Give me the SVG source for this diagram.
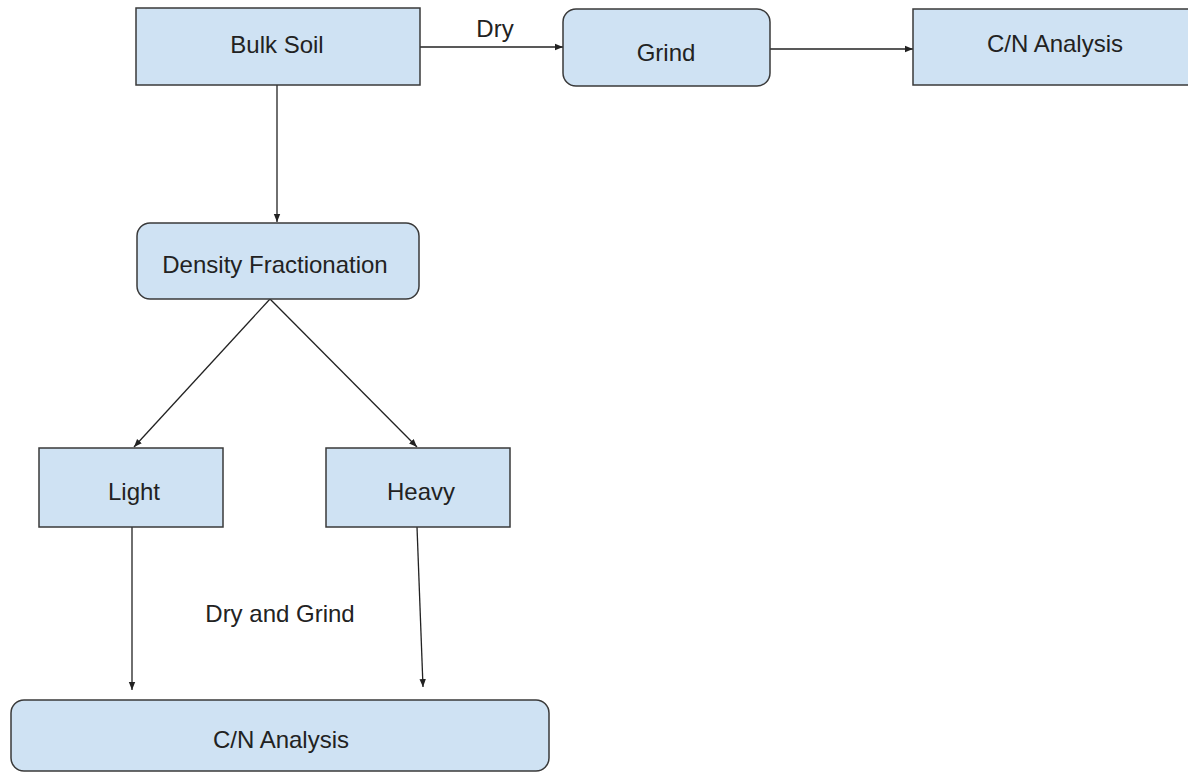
<svg xmlns="http://www.w3.org/2000/svg" width="1188" height="773" viewBox="0 0 1188 773">
<defs>
<style>
.box{fill:#cfe2f3;stroke:#3a3a3a;stroke-width:1.5}
.lbl{font-family:"Liberation Sans",Arial,sans-serif;font-size:24px;fill:#222;text-anchor:middle}
.edge{stroke:#222;stroke-width:1.3;fill:none;marker-end:url(#ah)}
</style>
<marker id="ah" viewBox="0 0 10 10" refX="10" refY="5" markerWidth="8" markerHeight="8" markerUnits="userSpaceOnUse" orient="auto">
<path d="M0,1 L10,5 L0,9 Z" fill="#222"/>
</marker>
</defs>
<rect width="1188" height="773" fill="#fff"/>
<g id="connectors">
<line class="edge" x1="420" y1="47" x2="563" y2="47"/>
<line class="edge" x1="770" y1="49" x2="913" y2="49"/>
<line class="edge" x1="277" y1="85" x2="277" y2="222"/>
<line class="edge" x1="270" y1="299" x2="134" y2="447"/>
<line class="edge" x1="270" y1="299" x2="417" y2="447"/>
<line class="edge" x1="132" y1="527" x2="132" y2="690"/>
<line class="edge" x1="417" y1="527" x2="423" y2="687"/>
<text class="lbl" x="495" y="37">Dry</text>
<text class="lbl" x="280" y="622">Dry and Grind</text>
</g>
<g id="bulk-soil">
<rect class="box" x="136" y="8" width="284" height="77"/>
<text class="lbl" x="277" y="53">Bulk Soil</text>
</g>
<g id="grind">
<rect class="box" x="563" y="9" width="207" height="77" rx="13"/>
<text class="lbl" x="666" y="61">Grind</text>
</g>
<g id="cn-analysis-top">
<rect class="box" x="913" y="9" width="290" height="76"/>
<text class="lbl" x="1055" y="52">C/N Analysis</text>
</g>
<g id="density-fractionation">
<rect class="box" x="137" y="223" width="282" height="76" rx="13"/>
<text class="lbl" x="275" y="273">Density Fractionation</text>
</g>
<g id="light">
<rect class="box" x="39" y="448" width="184" height="79"/>
<text class="lbl" x="134" y="500">Light</text>
</g>
<g id="heavy">
<rect class="box" x="326" y="448" width="184" height="79"/>
<text class="lbl" x="421" y="500">Heavy</text>
</g>
<g id="cn-analysis-bottom">
<rect class="box" x="11" y="700" width="538" height="71" rx="13"/>
<text class="lbl" x="281" y="748">C/N Analysis</text>
</g>
</svg>
